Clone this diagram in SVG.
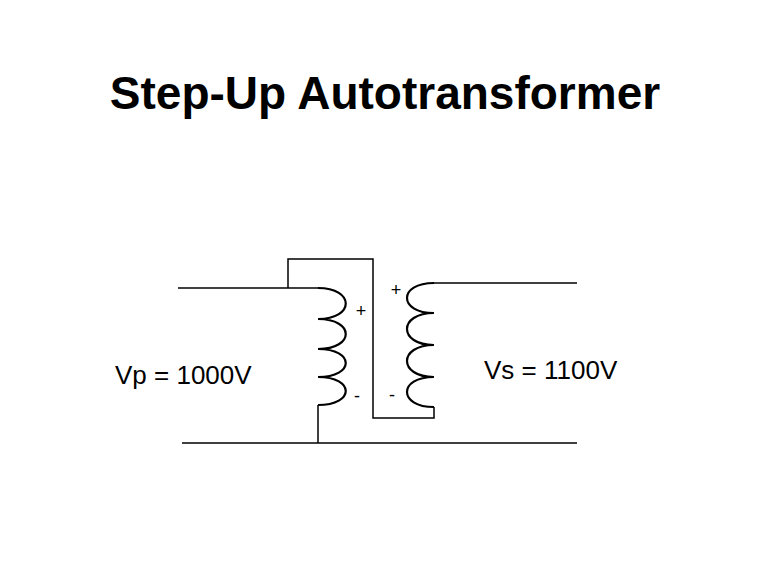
<svg xmlns="http://www.w3.org/2000/svg" width="763" height="588" viewBox="0 0 763 588">
<style>
.w{fill:none;stroke:#000;stroke-width:1.5}
.c{fill:none;stroke:#000;stroke-width:2.2}
.t{font-family:"Liberation Sans",Arial,sans-serif;fill:#000}
</style>
<rect width="763" height="588" fill="#fff"/>
<text class="t" x="385" y="109" font-size="46" font-weight="bold" text-anchor="middle">Step-Up Autotransformer</text>
<g id="connectors">
<polyline class="w" points="178,288 318,288"/>
<polyline class="w" points="288,288 288,259 373,259 373,418 434,418 434,407"/>
<polyline class="w" points="318,405 318,443"/>
<line class="w" x1="182" y1="443" x2="577" y2="443"/>
<line class="w" x1="434" y1="283" x2="577" y2="283"/>
</g>
<g id="primary">
<path class="c" d="M318,288 C355,288 355,319 318,319 C355,319 355,349 318,349 C355,349 355,377 318,377 C355,377 355,405 318,405"/>
<text class="t" x="361" y="317" font-size="18" text-anchor="middle">+</text>
<text class="t" x="357" y="402" font-size="18" text-anchor="middle">-</text>
</g>
<g id="secondary">
<path class="c" d="M434,283 C398,283 398,313 434,313 C398,313 398,345 434,345 C398,345 398,377 434,377 C398,377 398,407 434,407"/>
<text class="t" x="396" y="296" font-size="18" text-anchor="middle">+</text>
<text class="t" x="392" y="401" font-size="18" text-anchor="middle">-</text>
</g>
<g id="labels">
<text class="t" x="115" y="384" font-size="26">Vp = 1000V</text>
<text class="t" x="484" y="379" font-size="26">Vs = 1100V</text>
</g>
</svg>
